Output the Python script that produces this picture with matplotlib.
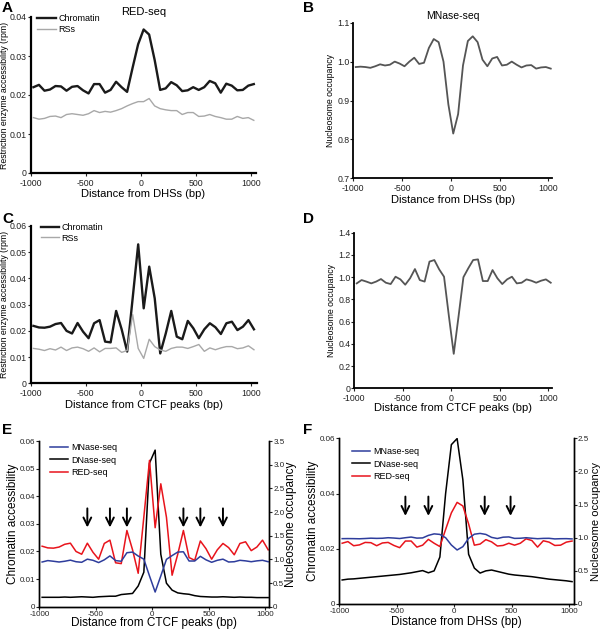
import numpy as np
import matplotlib
matplotlib.use("Agg")
import matplotlib.pyplot as plt

plt.rcParams['font.family'] = ['Liberation Sans', 'DejaVu Sans']

# bin centres (bp), 50 bp bins
bins = np.arange(-975, 1050, 50)

# A: RED-seq around DHSs
a_chromatin = [0.0220, 0.0226, 0.0211, 0.0214, 0.0223, 0.0222, 0.0211, 0.0221, 0.0223, 0.0212,
               0.0204, 0.0228, 0.0228, 0.0206, 0.0213, 0.0234, 0.0220, 0.0208, 0.0270, 0.0330,
               0.0368, 0.0355, 0.0290, 0.0213, 0.0217, 0.0233, 0.0225, 0.0210, 0.0212, 0.0220,
               0.0213, 0.0220, 0.0236, 0.0230, 0.0206, 0.0229, 0.0224, 0.0212, 0.0213, 0.0224, 0.0228]
a_rss = [0.0142, 0.0138, 0.0140, 0.0145, 0.0146, 0.0142, 0.0150, 0.0152, 0.0150, 0.0148,
         0.0152, 0.0160, 0.0155, 0.0158, 0.0156, 0.0160, 0.0165, 0.0172, 0.0178, 0.0183,
         0.0183, 0.0191, 0.0172, 0.0165, 0.0162, 0.0160, 0.0160, 0.0150, 0.0155, 0.0155,
         0.0145, 0.0146, 0.0150, 0.0145, 0.0142, 0.0138, 0.0138, 0.0145, 0.0140, 0.0142, 0.0135]

# B: MNase-seq around DHSs
b_mnase = [0.986, 0.987, 0.986, 0.984, 0.988, 0.993, 0.990, 0.992, 1.000, 0.995,
           0.988, 1.000, 1.010, 0.994, 0.997, 1.035, 1.058, 1.050, 1.000, 0.890,
           0.815, 0.865, 0.990, 1.053, 1.065, 1.050, 1.005, 0.988, 1.008, 1.012,
           0.990, 0.992, 1.000, 0.992, 0.985, 0.990, 0.991, 0.982, 0.985, 0.986, 0.982]

# C: RED-seq around CTCF peaks
c_chromatin = [0.0219, 0.0213, 0.0212, 0.0216, 0.0226, 0.0230, 0.0200, 0.0190, 0.0230, 0.0197,
               0.0172, 0.0229, 0.0241, 0.0159, 0.0156, 0.0276, 0.0206, 0.0121, 0.0325, 0.0530,
               0.0286, 0.0445, 0.0324, 0.0114, 0.0190, 0.0276, 0.0178, 0.0168, 0.0238, 0.0210,
               0.0172, 0.0206, 0.0229, 0.0214, 0.0188, 0.0229, 0.0235, 0.0203, 0.0216, 0.0241, 0.0206]
c_rss = [0.0133, 0.0130, 0.0125, 0.0132, 0.0127, 0.0138, 0.0125, 0.0135, 0.0138, 0.0132,
         0.0122, 0.0135, 0.0120, 0.0133, 0.0133, 0.0135, 0.0118, 0.0125, 0.0262, 0.0133,
         0.0095, 0.0168, 0.0140, 0.0127, 0.0122, 0.0133, 0.0138, 0.0138, 0.0133, 0.0140,
         0.0148, 0.0122, 0.0135, 0.0128, 0.0135, 0.0140, 0.0140, 0.0132, 0.0135, 0.0143, 0.0128]

# D: MNase-seq around CTCF peaks
d_mnase = [0.944, 0.974, 0.960, 0.944, 0.960, 0.983, 0.950, 0.938, 1.004, 0.980,
           0.932, 0.990, 1.073, 0.974, 0.960, 1.140, 1.154, 1.070, 1.004, 0.650,
           0.310, 0.650, 1.000, 1.080, 1.154, 1.160, 0.965, 0.965, 1.064, 0.990,
           0.938, 0.980, 1.004, 0.944, 0.950, 0.980, 0.968, 0.950, 0.968, 0.980, 0.950]

# E / F: DNase-seq
e_dnase = [0.0034, 0.0034, 0.0034, 0.0034, 0.0035, 0.0034, 0.0035, 0.0036, 0.0035, 0.0034,
           0.0036, 0.0037, 0.0038, 0.0038, 0.0044, 0.0046, 0.0048, 0.0075, 0.0125, 0.0520,
           0.0567, 0.0190, 0.0085, 0.0060, 0.0050, 0.0047, 0.0045, 0.0040, 0.0037, 0.0036,
           0.0035, 0.0035, 0.0036, 0.0035, 0.0034, 0.0035, 0.0034, 0.0034, 0.0033, 0.0033, 0.0033]
f_dnase = [0.0087, 0.0090, 0.0091, 0.0093, 0.0095, 0.0097, 0.0099, 0.0101, 0.0103, 0.0105,
           0.0107, 0.0110, 0.0113, 0.0117, 0.0121, 0.0113, 0.0120, 0.0170, 0.0400, 0.0577,
           0.0599, 0.0450, 0.0180, 0.0130, 0.0112, 0.0120, 0.0123, 0.0118, 0.0113, 0.0108,
           0.0105, 0.0103, 0.0101, 0.0099, 0.0096, 0.0093, 0.0090, 0.0088, 0.0086, 0.0084, 0.0081]

e_arrows = [-575, -375, -225, 275, 425, 625]
f_arrows = [-425, -225, 265, 490]

xticks = [-1000, -500, 0, 500, 1000]
xticklabels = ['-1000', '-500', '0', '500', '1000']

W, H = 600, 631
fig = plt.figure(figsize=(W / 100, H / 100), dpi=100)


def box(l, t, r, b):
    return [l / W, 1 - b / H, (r - l) / W, (b - t) / H]


def style(ax, lw, right=False, size=6.3, xpad=2.0):
    ax.spines['top'].set_visible(False)
    if not right:
        ax.spines['right'].set_visible(False)
    for s in ['left', 'bottom', 'right']:
        ax.spines[s].set_linewidth(lw)
    ax.tick_params(direction='out', length=2, width=0.8, pad=0.8, labelsize=size, colors='#222222')
    ax.tick_params(axis='x', pad=xpad)
    ax.set_xticks(xticks)
    ax.set_xticklabels(xticklabels)


def labels(ax, xlabel, ylabel, xy, yx, fx, fy):
    # label centres placed in axes coords
    ax.set_xlabel(xlabel, fontsize=fx, va='center')
    ax.xaxis.set_label_coords(0.5, xy)
    ax.set_ylabel(ylabel, fontsize=fy, va='center')
    ax.yaxis.set_label_coords(yx, 0.5)


fs_lab = 8
fs_small = 6.3

# ---- A
ax = fig.add_axes(box(30.7, 17, 256, 173))
ax.plot(bins, a_chromatin, color='#1a1a1a', lw=1.7, label='Chromatin')
ax.plot(bins, a_rss, color='#a8a8a8', lw=1.0, label='RSs')
ax.set_xlim(-1000, 1045)
ax.set_ylim(0, 0.04)
ax.set_yticks([0, 0.01, 0.02, 0.03, 0.04])
ax.set_yticklabels(['0', '0.01', '0.02', '0.03', '0.04'])
style(ax, 1.6)
labels(ax, 'Distance from DHSs (bp)', 'Restriction enzyme accessibility (rpm)', -0.135, -0.115, fs_lab, fs_small)
ax.set_title('RED-seq', fontsize=8, pad=1)
ax.legend(frameon=False, loc='upper left', bbox_to_anchor=(0.03, 1.02), fontsize=6.5,
          handlelength=2.0, handletextpad=0.3, labelspacing=0.2, borderpad=0, borderaxespad=0)

# ---- B
ax = fig.add_axes(box(353.3, 22.7, 552.3, 178.3))
ax.plot(bins, b_mnase, color='#555555', lw=1.3)
ax.set_xlim(-1000, 1041)
ax.set_ylim(0.7, 1.1)
ax.set_yticks([0.7, 0.8, 0.9, 1.0, 1.1])
ax.set_yticklabels(['0.7', '0.8', '0.9', '1.0', '1.1'])
style(ax, 1.3)
labels(ax, 'Distance from DHSs (bp)', 'Nucleosome occupancy', -0.14, -0.117, fs_lab, fs_small)
ax.set_title('MNase-seq', fontsize=7.5, pad=3)

# ---- C
ax = fig.add_axes(box(30.7, 226, 256.7, 383.3))
ax.plot(bins, c_chromatin, color='#1a1a1a', lw=1.7, label='Chromatin')
ax.plot(bins, c_rss, color='#a8a8a8', lw=1.0, label='RSs')
ax.set_xlim(-1000, 1050)
ax.set_ylim(0, 0.06)
ax.set_yticks([0, 0.01, 0.02, 0.03, 0.04, 0.05, 0.06])
ax.set_yticklabels(['0', '0.01', '0.02', '0.03', '0.04', '0.05', '0.06'])
style(ax, 1.6)
labels(ax, 'Distance from CTCF peaks (bp)', 'Restriction enzyme accessibility (rpm)', -0.14, -0.115, fs_lab, fs_small)
ax.legend(frameon=False, loc='upper left', bbox_to_anchor=(0.045, 1.02), fontsize=6.5,
          handlelength=2.0, handletextpad=0.3, labelspacing=0.2, borderpad=0, borderaxespad=0)

# ---- D
ax = fig.add_axes(box(354.3, 232.7, 552.3, 388.3))
ax.plot(bins, d_mnase, color='#555555', lw=1.3)
ax.set_xlim(-1000, 1041)
ax.set_ylim(0, 1.4)
ax.set_yticks([0, 0.2, 0.4, 0.6, 0.8, 1.0, 1.2, 1.4])
ax.set_yticklabels(['0', '0.2', '0.4', '0.6', '0.8', '1.0', '1.2', '1.4'])
style(ax, 1.3)
labels(ax, 'Distance from CTCF peaks (bp)', 'Nucleosome occupancy', -0.128, -0.117, fs_lab, fs_small)


def overlay(rect, xlim, red, dnase, blue, ylim_l, yt_l, ytl_l, ylim_r, yt_r, ytl_r,
            xlabel, arrows, arrow_y, leg_anchor, xlab_y, ylab_x, ylab_rx, rsize=8.5):
    ax = fig.add_axes(rect)
    axr = ax.twinx()
    lb, = axr.plot(bins, blue, color='#2e3d9c', lw=1.1, label='MNase-seq')
    lk, = ax.plot(bins, dnase, color='black', lw=1.1, label='DNase-seq')
    lr, = ax.plot(bins, red, color='#e8141c', lw=1.1, label='RED-seq')
    ax.set_xlim(*xlim)
    ax.set_ylim(*ylim_l)
    ax.set_yticks(yt_l)
    ax.set_yticklabels(ytl_l)
    axr.set_ylim(*ylim_r)
    axr.set_yticks(yt_r)
    axr.set_yticklabels(ytl_r)
    for a in (ax, axr):
        style(a, 1.0, right=True, size=5.8, xpad=1.0)
    labels(ax, xlabel, 'Chromatin accessibility', xlab_y, ylab_x, 8.5, 8.5)
    axr.set_ylabel('Nucleosome occupancy', fontsize=rsize, rotation=90, va='center')
    axr.yaxis.set_label_coords(ylab_rx, 0.5)
    for x in arrows:
        ax.annotate('', xy=(x, arrow_y[1]), xytext=(x, arrow_y[0]),
                    arrowprops=dict(arrowstyle='->', lw=1.4, color='black', mutation_scale=14,
                                    shrinkA=0, shrinkB=0))
    axr.legend(handles=[lb, lk, lr], frameon=False, loc='upper left', bbox_to_anchor=leg_anchor,
               fontsize=6.5, handlelength=2.0, handletextpad=0.4, labelspacing=0.35,
               borderpad=0, borderaxespad=0)
    return ax


# ---- E
overlay(box(39.3, 441, 269.3, 606.7), (-1000, 1035), c_chromatin, e_dnase, d_mnase,
        (0, 0.06), [0, 0.01, 0.02, 0.03, 0.04, 0.05, 0.06],
        ['0', '0.01', '0.02', '0.03', '0.04', '0.05', '0.06'],
        (0, 3.5), [0, 0.5, 1.0, 1.5, 2.0, 2.5, 3.0, 3.5],
        ['0', '0.5', '1.0', '1.5', '2.0', '2.5', '3.0', '3.5'],
        'Distance from CTCF peaks (bp)', e_arrows, (0.0356, 0.0287), (0.045, 0.985),
        -0.1, -0.114, 1.095)

# ---- F
overlay(box(339.3, 438.3, 574, 604), (-1000, 1042), a_chromatin, f_dnase, b_mnase,
        (0, 0.06), [0, 0.02, 0.04, 0.06], ['0', '0.02', '0.04', '0.06'],
        (0, 2.5), [0, 0.5, 1.0, 1.5, 2.0, 2.5], ['0', '0.5', '1.0', '1.5', '2.0', '2.5'],
        'Distance from DHSs (bp)', f_arrows, (0.0389, 0.0319), (0.052, 0.945),
        -0.11, -0.112, 1.092, rsize=8)

for letter, x, y in [('A', 2, 1), ('B', 303, 1), ('C', 2, 212), ('D', 303, 212),
                     ('E', 2, 423), ('F', 303, 423)]:
    fig.text(x / W, 1 - y / H, letter, fontsize=11, fontweight='bold', va='top', ha='left')

fig.savefig('out.png', dpi=100)
